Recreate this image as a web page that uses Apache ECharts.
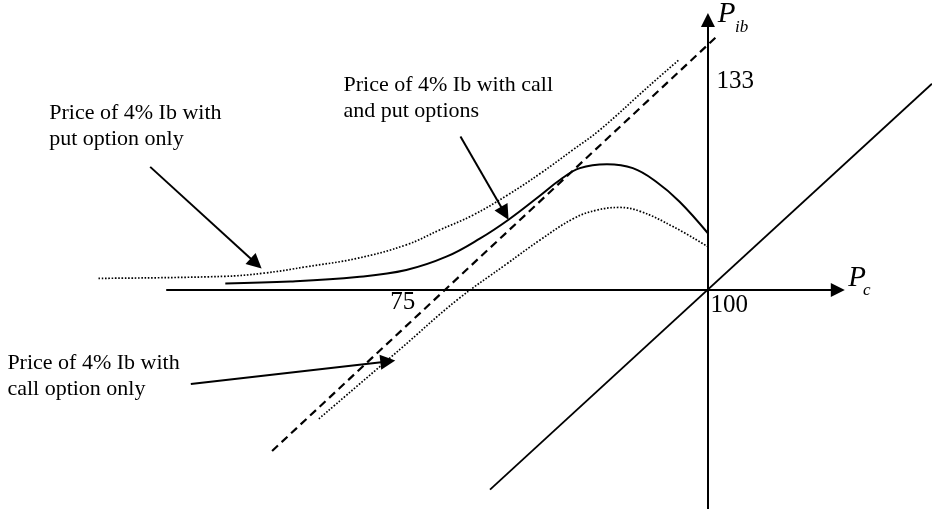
<!DOCTYPE html>
<html>
<head>
<meta charset="utf-8">
<script src="https://cdn.jsdelivr.net/npm/echarts@6/dist/echarts.min.js"></script>
<style>
  html, body { margin: 0; padding: 0; background: #fff; }
  #main { width: 932px; height: 509px; }
</style>
</head>
<body>
<div id="main"></div>
<script>
// schematic: P_c across, P_ib up (origin of the axes at 100 / 100)
var axisH = [[56.0, 100], [110.55, 100]];
var axisV = [[100, 66], [100, 141.9]];
var diagonal = [[82.3, 69.0], [118.2, 132.0]];      // 45 deg line through the origin
var dashedLine = [[64.6, 75.0], [100.7, 139.3]];

// price with call option only (lower dotted)
var callOnly = [[68.4, 80.0], [75.0, 90.8], [79.6, 98.4], [83.7, 104.1], [86.4, 107.8],
  [89.1, 111.1], [91.0, 112.4], [92.8, 112.8], [94.5, 112.2], [97.2, 109.8], [100, 106.7]];

// price with call and put options (solid)
var callAndPut = [[60.8, 101.0], [66.1, 101.3], [71.5, 102.0], [75.5, 103.1], [78.8, 105.2],
  [81.5, 108.0], [83.8, 110.9], [86.4, 114.7], [88.0, 117.1], [89.6, 118.9], [91.8, 119.5],
  [93.9, 118.9], [95.8, 116.8], [97.7, 113.7], [100, 108.8]];

// price with put option only (upper dotted)
var putOnly = [[50.5, 101.8], [60.6, 102.1], [63.9, 102.6], [67.4, 103.6], [71.5, 104.9],
  [75.5, 107.0], [78.2, 109.3], [80.9, 111.6], [83.7, 114.7], [86.4, 118.1], [89.0, 121.7],
  [91.2, 124.8], [95.3, 131.8], [97.7, 135.8]];

var pointers = [
  [[54.7, 119.1], [63.3, 104.1]],
  [[79.9, 123.8], [83.5, 111.9]],
  [[58.0, 85.4], [74.0, 88.9]]
];

var noteLabels = [
  [46.5, 129.5, 'Price of 4% Ib with\nput option only'],
  [70.4, 133.8, 'Price of 4% Ib with call\nand put options'],
  [43.1, 90.6, 'Price of 4% Ib with\ncall option only']
];
var tickLabels = [[100.7, 134.5, '133'], [74.2, 100.3, '75'], [100.2, 99.7, '100']];
var axisNames = [[100.8, 145.0, 'P'], [111.4, 104.05, 'P']];
var axisSubs = [[102.2, 142.0, 'ib'], [112.6, 101.15, 'c']];

var ink = '#000';
var serif = '"Liberation Serif", "Times New Roman", serif';

function textSeries(rows, font) {
  return {
    type: 'scatter',
    symbolSize: 0,
    silent: true,
    itemStyle: { opacity: 1 },
    data: rows.map(function (r) { return { value: [r[0], r[1]], name: r[2] }; }),
    label: {
      show: true,
      position: [0, 0],
      align: 'left',
      verticalAlign: 'top',
      formatter: function (p) { return p.name; },
      color: ink,
      opacity: 1,
      fontFamily: serif,
      fontSize: font.size,
      fontStyle: font.style || 'normal',
      lineHeight: font.lh
    }
  };
}

var myChart = echarts.init(document.getElementById('main'));

var option = {
  animation: false,
  backgroundColor: '#fff',
  grid: { left: 0, right: 0, top: 0, bottom: 0 },
  xAxis: { type: 'value', min: 42.5, max: 118.2, show: false },
  yAxis: { type: 'value', min: 66, max: 145, show: false },
  series: [
    {
      type: 'lines', coordinateSystem: 'cartesian2d', silent: true,
      symbol: ['none', 'triangle'], symbolSize: [0, 14],
      lineStyle: { color: ink, width: 2, opacity: 1 },
      data: [{ coords: axisH }, { coords: axisV }]
    },
    {
      type: 'line', data: diagonal, showSymbol: false, silent: true,
      lineStyle: { color: ink, width: 1.8 }
    },
    {
      type: 'line', data: dashedLine, showSymbol: false, silent: true,
      lineStyle: { color: ink, width: 2.2, type: [8, 5] }
    },
    {
      type: 'line', data: callOnly, showSymbol: false, silent: true, smooth: 0.4,
      lineStyle: { color: ink, width: 1.7, type: [1.6, 1.7] }
    },
    {
      type: 'line', data: callAndPut, showSymbol: false, silent: true, smooth: 0.4,
      lineStyle: { color: ink, width: 2 }
    },
    {
      type: 'line', data: putOnly, showSymbol: false, silent: true, smooth: 0.4,
      lineStyle: { color: ink, width: 1.7, type: [1.6, 1.7] }
    },
    {
      type: 'lines', coordinateSystem: 'cartesian2d', silent: true,
      symbol: ['none', 'triangle'], symbolSize: [0, 15],
      lineStyle: { color: ink, width: 2, opacity: 1 },
      data: pointers.map(function (c) { return { coords: c }; })
    },
    textSeries(noteLabels, { size: 22, lh: 26 }),
    textSeries(tickLabels, { size: 25, lh: 28 }),
    textSeries(axisNames, { size: 29, lh: 29, style: 'italic' }),
    textSeries(axisSubs, { size: 17, lh: 17, style: 'italic' })
  ]
};

myChart.setOption(option);
</script>
</body>
</html>
